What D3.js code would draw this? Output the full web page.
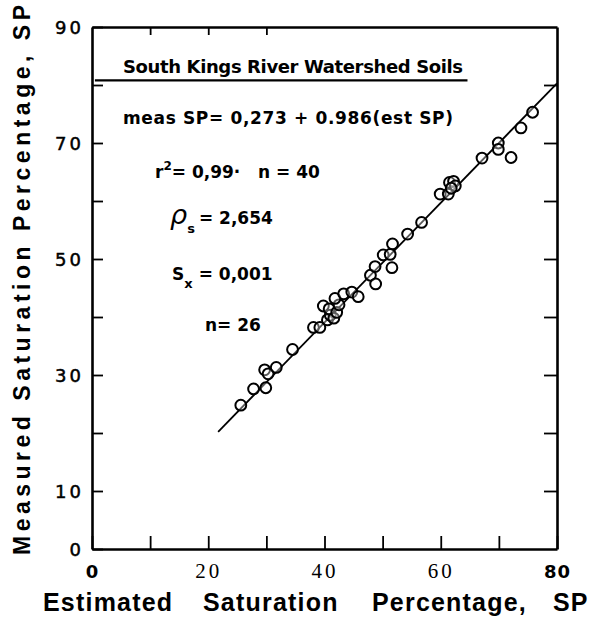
<!DOCTYPE html>
<html>
<head>
<meta charset="utf-8">
<script src="https://cdn.jsdelivr.net/npm/d3@7"></script>
<style>
  html, body { margin: 0; padding: 0; background: #fff; }
  svg { display: block; }
</style>
</head>
<body>
<svg id="chart" width="606" height="619"></svg>
<script>
// ---- data ----
const estSP  = [25.6, 27.8, 29.9, 29.7, 30.3, 31.7, 34.5, 38.1, 39.2, 39.8,
                40.5, 41.0, 40.8, 41.6, 42.1, 42.5, 41.8, 43.3, 44.7, 45.8,
                47.9, 48.7, 48.8, 50.1, 51.3, 51.6, 51.7, 54.3, 56.7, 59.9,
                61.3, 61.5, 62.2, 62.5, 61.8, 67.1, 69.9, 69.9, 72.1, 73.8, 75.8];
const measSP = [24.8, 27.6, 27.8, 30.9, 30.2, 31.3, 34.4, 38.2, 38.2, 41.9,
                39.5, 40.3, 41.4, 39.8, 40.8, 42.1, 43.2, 44.0, 44.3, 43.5,
                47.2, 48.7, 45.7, 50.7, 50.8, 48.5, 52.6, 54.3, 56.3, 61.2,
                61.2, 63.2, 63.4, 62.6, 62.2, 67.4, 70.0, 68.9, 67.5, 72.6, 75.3];
const fitEst  = [21.7, 80];
const fitMeas = [20.2, 80.3];
const xTicks = [0, 10, 20, 30, 40, 50, 60, 70, 80];
const xTickLabels = [0, 20, 40, 60, 80];
const xTopTicks = [10, 20, 30];
const yTicks = [0, 10, 20, 30, 40, 50, 60, 70, 80, 90];
const yTickLabels = [0, 10, 30, 50, 70, 90];
const xTitle = ["Estimated", "Saturation", "Percentage,", "SP"];
const yTitle = "Measured Saturation Percentage, SP";
const boxTitle = "South Kings River Watershed Soils";

const svg = d3.select("#chart");
const x = d3.scaleLinear().domain([0, 80]).range([92, 557]);
const y = d3.scaleLinear().domain([0, 90]).range([549, 27]);

// ---- axes ----
const gB = svg.append("g").attr("transform", `translate(0,${y(0)})`)
  .call(d3.axisBottom(x).tickValues(xTicks).tickSizeInner(-13).tickSizeOuter(0)
    .tickFormat(d => xTickLabels.includes(d) ? d : ""));
const gT = svg.append("g").attr("transform", `translate(0,${y(90)})`)
  .call(d3.axisTop(x).tickValues(xTopTicks).tickSizeInner(-8).tickSizeOuter(0).tickFormat(""));
const gL = svg.append("g").attr("transform", `translate(${x(0)},0)`)
  .call(d3.axisLeft(y).tickValues(yTicks).tickSizeInner(-11).tickSizeOuter(0)
    .tickFormat(d => yTickLabels.includes(d) ? d : ""));
const gR = svg.append("g").attr("transform", `translate(${x(80)},0)`)
  .call(d3.axisRight(y).tickValues(yTicks.filter(d => d > 0 && d < 90)).tickSizeInner(-13).tickSizeOuter(0).tickFormat(""));

[gB, gT, gL, gR].forEach(g => {
  g.select(".domain").attr("stroke", "#000").attr("stroke-width", 2.6);
  g.selectAll(".tick line").attr("stroke", "#000").attr("stroke-width", 1.8);
});
gT.select(".domain").attr("stroke-width", 2.4);

gB.selectAll(".tick text")
  .attr("y", 29).attr("dy", 0)
  .attr("fill", "#000")
  .each(function(d) {
    const t = d3.select(this);
    if (d === 0 || d === 80) {
      t.attr("font-family", "'DejaVu Sans', sans-serif").attr("font-size", 18)
       .attr("font-weight", 600).attr("letter-spacing", 1);
    } else {
      t.attr("font-family", "'Liberation Serif', 'Times New Roman', serif").attr("font-size", 21)
       .attr("letter-spacing", 3);
    }
  });

gL.selectAll(".tick text")
  .attr("x", -8).attr("dy", "0.36em")
  .attr("fill", "#000")
  .attr("stroke", "#000").attr("stroke-width", 0.5)
  .attr("font-family", "'DejaVu Sans', sans-serif")
  .attr("font-size", 18)
  .attr("letter-spacing", 3);

// ---- box title and rule ----
svg.append("line")
  .attr("x1", x(0.5)).attr("x2", x(64.6))
  .attr("y1", y(80.8)).attr("y2", y(80.8))
  .attr("stroke", "#000").attr("stroke-width", 2.2);

const ann = svg.append("g")
  .attr("font-family", "'DejaVu Sans', sans-serif")
  .attr("fill", "#000");

ann.append("text")
  .attr("x", 123).attr("y", 73)
  .attr("font-size", 18).attr("font-weight", "bold")
  .attr("textLength", 340).attr("lengthAdjust", "spacing")
  .text(boxTitle);

ann.append("text")
  .attr("x", 123).attr("y", 124)
  .attr("font-size", 17).attr("font-weight", "bold")
  .attr("textLength", 330).attr("lengthAdjust", "spacing")
  .text("meas SP= 0,273 + 0.986(est  SP)");

const r2 = ann.append("text").attr("x", 155).attr("y", 178)
  .attr("font-size", 17).attr("font-weight", "bold");
r2.append("tspan").text("r");
r2.append("tspan").attr("dy", -8).attr("font-size", 12).text("2");
r2.append("tspan").attr("dy", 8).text("= 0,99·");
r2.append("tspan").attr("x", 258).text("n = 40");

const rho = ann.append("text").attr("x", 170).attr("y", 224)
  .attr("font-size", 17).attr("font-weight", "bold");
rho.append("tspan").attr("font-size", 27).attr("font-style", "italic")
  .attr("font-weight", "normal").text("ρ");
rho.append("tspan").attr("dy", 9).attr("font-size", 13).text("s");
rho.append("tspan").attr("dy", -9).attr("dx", 4).text("= 2,654");

const sx = ann.append("text").attr("x", 172).attr("y", 280)
  .attr("font-size", 17).attr("font-weight", "bold");
sx.append("tspan").text("S");
sx.append("tspan").attr("dy", 8).attr("font-size", 13).text("x");
sx.append("tspan").attr("dy", -8).attr("dx", 6).text("= 0,001");

ann.append("text").attr("x", 205).attr("y", 331)
  .attr("font-size", 17).attr("font-weight", "bold")
  .text("n= 26");

// ---- regression line ----
svg.append("line")
  .attr("x1", x(fitEst[0])).attr("y1", y(fitMeas[0]))
  .attr("x2", x(fitEst[1])).attr("y2", y(fitMeas[1]))
  .attr("stroke", "#000").attr("stroke-width", 1.8);

// ---- points ----
svg.append("g").selectAll("circle")
  .data(estSP.map((e, i) => [e, measSP[i]]))
  .join("circle")
  .attr("cx", d => x(d[0])).attr("cy", d => y(d[1]))
  .attr("r", 5.4)
  .attr("fill", "#fff").attr("fill-opacity", 0.35)
  .attr("stroke", "#000").attr("stroke-width", 2);

// ---- axis titles ----
const xPos = [43, 203, 372, 553];
svg.append("g").selectAll("text").data(xTitle).join("text")
  .attr("x", (d, i) => xPos[i]).attr("y", 611)
  .attr("font-family", "'Liberation Sans', Arial, sans-serif")
  .attr("font-weight", "bold").attr("font-size", 25)
  .attr("letter-spacing", 1.2)
  .text(d => d);

svg.append("text")
  .attr("transform", "translate(30,280) rotate(-90)")
  .attr("text-anchor", "middle")
  .attr("font-family", "'Liberation Sans', Arial, sans-serif")
  .attr("font-weight", "bold").attr("font-size", 23)
  .attr("textLength", 550).attr("lengthAdjust", "spacing")
  .text(yTitle);
</script>
</body>
</html>
